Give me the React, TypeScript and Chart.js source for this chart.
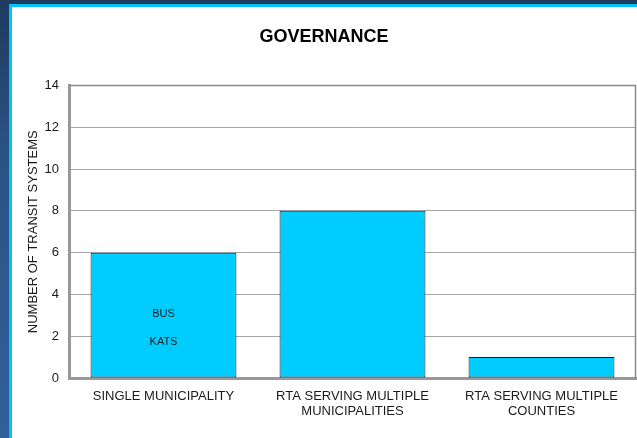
import React, { useEffect, useRef } from "react";
import { Chart, registerables } from "chart.js";

Chart.register(...registerables);

const chartTitle = "GOVERNANCE";
const yAxisTitle = "NUMBER OF TRANSIT SYSTEMS";
const categories: string[][] = [
  ["SINGLE MUNICIPALITY"],
  ["RTA SERVING MULTIPLE", "MUNICIPALITIES"],
  ["RTA SERVING MULTIPLE", "COUNTIES"],
];
const systemCounts: number[] = [6, 8, 1];
const barNotes: string[][] = [["BUS", "KATS"], [], []];
const yMin = 0;
const yMax = 14;
const yStep = 2;

const FONT = "'Liberation Sans', Arial, Helvetica, sans-serif";

const notesPlugin = {
  id: "barNotes",
  afterDatasetsDraw(chart: any) {
    const meta = chart.getDatasetMeta(0);
    const ctx = chart.ctx;
    ctx.save();
    ctx.font = `11px ${FONT}`;
    ctx.fillStyle = "#1a1a1a";
    ctx.textAlign = "center";
    ctx.textBaseline = "middle";
    meta.data.forEach((bar: any, i: number) => {
      const notes = barNotes[i] || [];
      const mid = (bar.y + bar.base) / 2;
      notes.forEach((t, k) => {
        ctx.fillText(t, bar.x, mid - 1 + k * 28);
      });
    });
    ctx.restore();
  },
};

const framePlugin = {
  id: "plotFrame",
  afterDatasetsDraw(chart: any) {
    const { ctx, chartArea } = chart;
    ctx.save();
    ctx.strokeStyle = "#8a8a8a";
    ctx.lineWidth = 1.5;
    ctx.beginPath();
    ctx.moveTo(chartArea.left, chartArea.top);
    ctx.lineTo(chartArea.right - 0.5, chartArea.top);
    ctx.lineTo(chartArea.right - 0.5, chartArea.bottom);
    ctx.stroke();
    ctx.restore();
  },
};

export default function App() {
  const ref = useRef<HTMLCanvasElement | null>(null);

  useEffect(() => {
    if (!ref.current) return;
    const chart = new Chart(ref.current, {
      type: "bar",
      data: {
        labels: categories,
        datasets: [
          {
            data: systemCounts,
            backgroundColor: "#00ccff",
            borderColor: "#1a1a1a",
            borderWidth: 1,
            borderSkipped: false,
            barPercentage: 0.772,
            categoryPercentage: 1,
          },
        ],
      },
      options: {
        responsive: false,
        animation: false,
        devicePixelRatio: 1,
        layout: { padding: { left: 0, right: 1, top: 0, bottom: 0 } },
        plugins: {
          legend: { display: false },
          tooltip: { enabled: false },
          title: {
            display: true,
            text: chartTitle,
            color: "#000000",
            font: { family: FONT, size: 18, weight: "bold", lineHeight: 1.2 },
            padding: { top: 19.7, bottom: 37.2 },
          },
        },
        scales: {
          x: {
            grid: { display: false, drawTicks: false },
            border: { display: true, color: "#999999", width: 3 },
            ticks: {
              color: "#1a1a1a",
              font: { family: FONT, size: 13, lineHeight: 1.15 },
              padding: 11,
              maxRotation: 0,
              autoSkip: false,
            },
            afterFit(scale: any) {
              scale.height = 60;
            },
          },
          y: {
            min: yMin,
            max: yMax,
            ticks: {
              stepSize: yStep,
              color: "#1a1a1a",
              font: { family: FONT, size: 13 },
              padding: 10,
            },
            grid: { color: "#a6a6a6", lineWidth: 1, drawTicks: false },
            border: { display: true, color: "#999999", width: 3 },
            title: {
              display: true,
              text: yAxisTitle,
              color: "#1a1a1a",
              font: { family: FONT, size: 13, lineHeight: 1.2 },
              padding: { top: 14, bottom: 0 },
            },
            afterFit(scale: any) {
              scale.width = 57;
            },
          },
        },
      },
      plugins: [notesPlugin, framePlugin],
    } as any);
    return () => chart.destroy();
  }, []);

  return (
    <div
      style={{
        position: "fixed",
        left: 0,
        top: 0,
        width: 637,
        height: 438,
        overflow: "hidden",
        background: "linear-gradient(to bottom, #1e3a5f 0%, #2a5385 35%, #31609a 100%)",
      }}
    >
      <div
        style={{
          position: "absolute",
          left: 9,
          top: 4,
          width: 640,
          height: 450,
          borderTop: "3px solid #00c4f8",
          borderLeft: "3px solid #00c4f8",
          background: "#ffffff",
        }}
      >
        <canvas ref={ref} width={625} height={431} style={{ display: "block" }} />
      </div>
    </div>
  );
}
